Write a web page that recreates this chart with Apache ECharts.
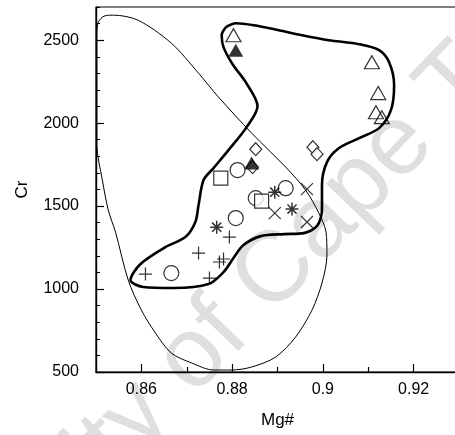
<!DOCTYPE html>
<html>
<head>
<meta charset="utf-8">
<script src="https://cdn.jsdelivr.net/npm/echarts@6/dist/echarts.min.js"></script>
<style>
  html, body { margin: 0; padding: 0; background: #fff; }
  #chart { width: 455px; height: 435px; }
</style>
</head>
<body>
<div id="chart"></div>
<script>
// Axis ticks
const xMajorTicks = [0.86, 0.88, 0.9, 0.92];
const xMinorTicks = [0.85, 0.87, 0.89, 0.91, 0.93];
const yMajorTicks = [500, 1000, 1500, 2000, 2500];
const yMinorTicks = [600, 700, 800, 900, 1100, 1200, 1300, 1400, 1600, 1700, 1800, 1900,
                     2100, 2200, 2300, 2400, 2600, 2700];

// Samples (Mg#, Cr)
const openTriangles   = [[0.8803, 2530], [0.9108, 2367], [0.9122, 2181], [0.9117, 2066], [0.9130, 2036]];
const filledTriangles = [[0.8808, 2440], [0.8843, 1759]];
const diamonds        = [[0.8852, 1843], [0.8845, 1735], [0.8978, 1855], [0.8987, 1813]];
const circles         = [[0.8812, 1717], [0.8918, 1608], [0.8852, 1548], [0.8808, 1428], [0.8666, 1096]];
const squares         = [[0.8775, 1669], [0.8865, 1530]];
const asterisks       = [[0.8894, 1584], [0.8932, 1482], [0.8766, 1373]];
const crosses         = [[0.8965, 1602], [0.8894, 1458], [0.8965, 1404]];
const pluses          = [[0.8794, 1313], [0.8726, 1217], [0.8772, 1163], [0.8781, 1181], [0.8750, 1066], [0.8609, 1090]];

// Field outlines (closed)
const thickField = [
  [0.8786, 2578], [0.8808, 2602], [0.8848, 2590], [0.8903, 2560], [0.8954, 2530],
  [0.9013, 2500], [0.9080, 2476], [0.9124, 2440], [0.9146, 2367], [0.9157, 2229],
  [0.9150, 2078], [0.9124, 1970], [0.9080, 1910], [0.9035, 1849], [0.9009, 1765],
  [0.8998, 1627], [0.8998, 1476], [0.8987, 1380], [0.8958, 1337], [0.8914, 1331],
  [0.8863, 1319], [0.8825, 1265], [0.8803, 1187], [0.8781, 1102], [0.8748, 1030],
  [0.8671, 1006], [0.8604, 1012], [0.8576, 1054], [0.8598, 1151], [0.8653, 1253],
  [0.8697, 1313], [0.8719, 1404], [0.8726, 1506], [0.8737, 1657], [0.8759, 1729],
  [0.8792, 1837], [0.8832, 1976], [0.8856, 2102], [0.8830, 2247], [0.8801, 2355],
  [0.8781, 2458], [0.8777, 2530], [0.8786, 2578]
];
const thinField = [
  [0.8502, 2542], [0.8505, 2608], [0.8518, 2645], [0.8538, 2651], [0.8593, 2620],
  [0.8666, 2482], [0.8726, 2301], [0.8770, 2157], [0.8843, 1940], [0.8918, 1735],
  [0.8962, 1596], [0.8991, 1458], [0.9007, 1343], [0.9009, 1205], [0.8998, 1036],
  [0.8976, 873], [0.8940, 711], [0.8896, 590], [0.8843, 530], [0.8799, 512],
  [0.8759, 512], [0.8711, 554], [0.8666, 614], [0.8631, 735], [0.8600, 873],
  [0.8571, 1054], [0.8543, 1343], [0.8527, 1476], [0.8514, 1657], [0.8502, 1867],
  [0.8502, 2139], [0.8502, 2542]
];

const FONT = 'Liberation Sans, Arial, sans-serif';
const stroke = { color: 'rgba(0,0,0,0)', borderColor: '#000', borderWidth: 1.2 };
const PLUS = 'path://M0,5L10,5M5,0L5,10';
const CROSS = 'path://M0,0L10,10M10,0L0,10';
const STAR = 'path://M5,0L5,10M0,5L10,5M1.5,1.5L8.5,8.5M8.5,1.5L1.5,8.5';

function scatter(data, symbol, size, itemStyle) {
  return { type: 'scatter', data, symbol, symbolSize: size, itemStyle, z: 3, silent: true };
}

const chart = echarts.init(document.getElementById('chart'), null, { renderer: 'canvas' });
chart.setOption({
  animation: false,
  backgroundColor: '#fff',
  graphic: [{
    type: 'text', x: 224, y: 326, rotation: 46 * Math.PI / 180, z: -10, silent: true,
    style: { text: 'University of Cape Town', fill: '#dfdfdf', font: '100px ' + FONT,
             align: 'center', verticalAlign: 'middle' }
  }],
  grid: { left: 96, right: -4, top: 7, bottom: 63, show: true, borderColor: '#000', borderWidth: 1.2,
          outerBoundsMode: 'none', containLabel: false },
  xAxis: [{
    type: 'value', min: 0.85, max: 0.93, name: 'Mg#', nameLocation: 'middle', nameGap: 40,
    nameTextStyle: { fontFamily: FONT, fontSize: 17, color: '#000' },
    axisLine: { lineStyle: { color: '#000', width: 1.4 } },
    axisTick: { inside: true, length: 8, customValues: xMajorTicks, lineStyle: { color: '#000', width: 1.2 } },
    axisLabel: { customValues: xMajorTicks, margin: 10, fontFamily: FONT, fontSize: 16, color: '#000',
                 formatter: v => String(v) },
    splitLine: { show: false }
  }, {
    type: 'value', min: 0.85, max: 0.93, position: 'bottom',
    axisLine: { show: false },
    axisTick: { inside: true, length: 5, customValues: xMinorTicks, lineStyle: { color: '#000', width: 1.2 } },
    axisLabel: { show: false }, splitLine: { show: false }
  }],
  yAxis: [{
    type: 'value', min: 500, max: 2700, interval: 500, name: 'Cr', nameLocation: 'middle', nameGap: 65,
    nameTextStyle: { fontFamily: FONT, fontSize: 17, color: '#000' },
    axisLine: { show: true, lineStyle: { color: '#000', width: 1.4 } },
    axisTick: { show: true, inside: true, length: 8, customValues: yMajorTicks, lineStyle: { color: '#000', width: 1.2 } },
    axisLabel: { margin: 17, fontFamily: FONT, fontSize: 16, color: '#000',
                 customValues: yMajorTicks, formatter: v => String(v) },
    splitLine: { show: false }
  }, {
    type: 'value', min: 500, max: 2700, position: 'left',
    axisLine: { show: false },
    axisTick: { show: true, inside: true, length: 4, customValues: yMinorTicks, lineStyle: { color: '#000', width: 1 } },
    axisLabel: { show: false }, splitLine: { show: false }
  }],
  series: [
    { type: 'line', data: thinField, smooth: 0.3, showSymbol: false, silent: true, z: 2,
      lineStyle: { color: '#000', width: 1 } },
    { type: 'line', data: thickField, smooth: 0.3, showSymbol: false, silent: true, z: 2,
      lineStyle: { color: '#000', width: 2.6 } },
    scatter(openTriangles, 'triangle', [15, 13], stroke),
    scatter(diamonds, 'diamond', [12, 13], { color: '#fff', borderColor: '#000', borderWidth: 1.2 }),
    scatter(filledTriangles, 'triangle', [15, 13], { color: '#000' }),
    scatter(circles, 'circle', 15, { color: '#fff', borderColor: '#000', borderWidth: 1.2 }),
    scatter(squares, 'rect', 14, { color: '#fff', borderColor: '#000', borderWidth: 1.2 }),
    scatter(pluses, PLUS, 13, stroke),
    scatter(crosses, CROSS, 12, stroke),
    scatter(asterisks, STAR, 13, { color: 'rgba(0,0,0,0)', borderColor: '#000', borderWidth: 1.5 })
  ]
});
</script>
</body>
</html>
